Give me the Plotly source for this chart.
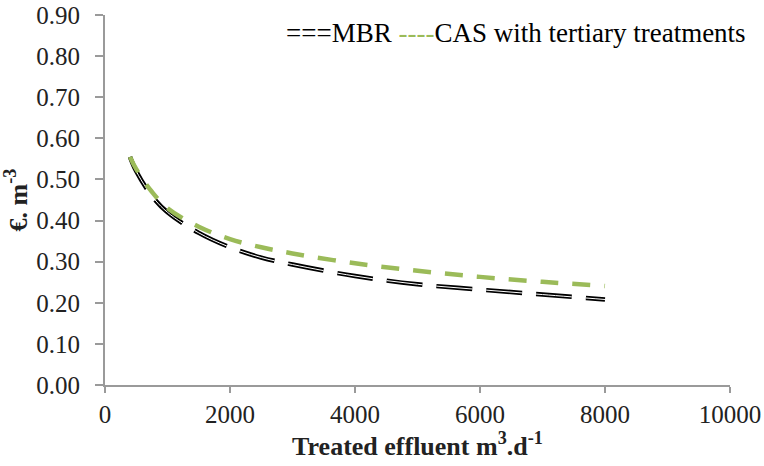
import plotly.graph_objects as go

flow = [400, 500, 750, 1000, 1500, 2000, 2500, 3000, 4000, 5000, 6000, 7000, 8000]
mbr = [0.555, 0.52, 0.46, 0.42, 0.37, 0.335, 0.31, 0.293, 0.265, 0.245, 0.232, 0.22, 0.208]
cas = [0.555, 0.525, 0.47, 0.43, 0.385, 0.355, 0.335, 0.32, 0.296, 0.278, 0.263, 0.251, 0.241]

x_ticks = [0, 2000, 4000, 6000, 8000, 10000]
y_ticks = [0, 0.1, 0.2, 0.3, 0.4, 0.5, 0.6, 0.7, 0.8, 0.9]

FONT = "Liberation Serif"
GREEN = "#9BBB59"
W, H = 764, 466
ML, MR, MT, MB = 105, 34, 15, 81

fig = go.Figure()
fig.add_trace(go.Scatter(x=flow, y=mbr, mode="lines", name="MBR",
                         line=dict(color="black", width=4.5, dash="36px,14px"),
                         line_shape="spline"))
fig.add_trace(go.Scatter(x=flow, y=mbr, mode="lines", showlegend=False,
                         line=dict(color="white", width=1, dash="36px,14px"),
                         line_shape="spline"))
fig.add_trace(go.Scatter(x=flow, y=cas, mode="lines", name="CAS with tertiary treatments",
                         line=dict(color=GREEN, width=4.5, dash="18px,14px"),
                         line_shape="spline"))

pw = W - ML - MR
ph = H - MT - MB
fig.update_layout(
    width=W, height=H,
    margin=dict(l=ML, r=MR, t=MT, b=MB),
    paper_bgcolor="white", plot_bgcolor="white",
    showlegend=False,
    font=dict(family=FONT, size=25, color="#222"),
    annotations=[dict(
        x=(748 - ML) / pw, y=(H - MB - 33) / ph, xref="paper", yref="paper",
        xanchor="right", yanchor="middle",
        text="===MBR <span style='color:%s'>----</span>CAS with tertiary treatments" % GREEN,
        showarrow=False, font=dict(family=FONT, size=27, color="black"),
    )],
)

fig.update_xaxes(
    range=[0, 10000], tickvals=x_ticks, ticktext=[str(v) for v in x_ticks],
    automargin=False,
    showgrid=False, zeroline=False, showline=True, linecolor="#9a9a9a", linewidth=2,
    ticks="outside", ticklen=6, tickwidth=1.5, tickcolor="#9a9a9a",
    tickfont=dict(family=FONT, size=25, color="#222"),
    title=dict(text="<b>Treated effluent m<sup>3</sup>.d<sup>-1</sup></b>",
               font=dict(family=FONT, size=26, color="#222"), standoff=10),
)
fig.update_yaxes(
    range=[0, 0.9], tickvals=y_ticks, ticktext=["%.2f" % v for v in y_ticks],
    automargin=False, ticklabelstandoff=10,
    showgrid=False, zeroline=False, showline=True, linecolor="#9a9a9a", linewidth=2,
    ticks="outside", ticklen=8, tickwidth=1.5, tickcolor="#9a9a9a",
    tickfont=dict(family=FONT, size=25, color="#222"),
    title=dict(text="<b>€. m<sup>-3</sup></b>",
               font=dict(family=FONT, size=26, color="#222"), standoff=4),
)

fig.write_html("out.html")
